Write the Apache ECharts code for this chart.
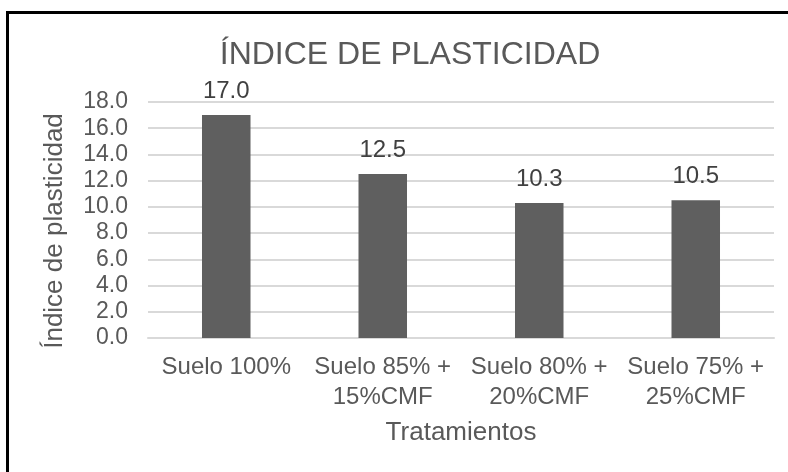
<!DOCTYPE html>
<html>
<head>
<meta charset="utf-8">
<script src="https://cdn.jsdelivr.net/npm/echarts@6/dist/echarts.min.js"></script>
<style>
  html, body { margin: 0; padding: 0; background: #fff; }
  #wrap { position: relative; width: 788px; height: 472px; overflow: hidden; }
  #chart { width: 788px; height: 472px; }
  /* the frame of the original only shows its top and left edges */
  #frame {
    position: absolute; left: 6px; top: 11px; width: 900px; height: 600px;
    border-left: 3px solid #000; border-top: 3px solid #000; pointer-events: none;
  }
</style>
</head>
<body>
<div id="wrap">
  <div id="chart"></div>
  <div id="frame"></div>
</div>
<script>
var categories = ['Suelo 100%', 'Suelo 85% +\n15%CMF', 'Suelo 80% +\n20%CMF', 'Suelo 75% +\n25%CMF']
var plasticityIndex = [17.0, 12.5, 10.3, 10.5]
var yMin = 0
var yMax = 18
var yStep = 2

var textColor = '#595959'
var font = 'Arial, "Liberation Sans", sans-serif'

var chart = echarts.init(document.getElementById('chart'))
chart.setOption({
  animation: false,
  textStyle: { fontFamily: font },
  title: {
    text: 'ÍNDICE DE PLASTICIDAD',
    left: 405,
    textAlign: 'center',
    top: 34,
    textStyle: {
      fontFamily: font,
      fontSize: 32,
      fontWeight: 'normal',
      color: textColor
    }
  },
  grid: {
    left: 148,
    right: 14,
    top: 102,
    bottom: 134
  },
  xAxis: {
    type: 'category',
    data: categories,
    name: 'Tratamientos',
    nameLocation: 'middle',
    nameGap: 82,
    nameTextStyle: { fontSize: 26, color: textColor },
    axisLine: { lineStyle: { color: '#d9d9d9', width: 2 } },
    axisTick: { show: false },
    axisLabel: {
      color: textColor,
      fontSize: 24,
      lineHeight: 30,
      margin: 14,
      interval: 0
    }
  },
  yAxis: {
    type: 'value',
    min: yMin,
    max: yMax,
    interval: yStep,
    name: 'Índice de plasticidad',
    nameLocation: 'middle',
    nameGap: 80,
    nameTextStyle: { fontSize: 26, color: textColor, padding: [0, 22, 0, 0] },
    axisLine: { show: false },
    axisTick: { show: false },
    axisLabel: {
      color: textColor,
      fontSize: 23,
      margin: 20,
      formatter: function (v) { return v.toFixed(1) }
    },
    splitLine: { lineStyle: { color: '#d9d9d9', width: 2 } }
  },
  series: [
    {
      type: 'bar',
      data: plasticityIndex,
      barWidth: '31%',
      itemStyle: { color: '#5f5f5f' },
      label: {
        show: true,
        position: 'top',
        distance: 12,
        fontSize: 24,
        color: '#404040',
        formatter: function (p) { return p.value.toFixed(1) }
      }
    }
  ]
})
</script>
</body>
</html>
